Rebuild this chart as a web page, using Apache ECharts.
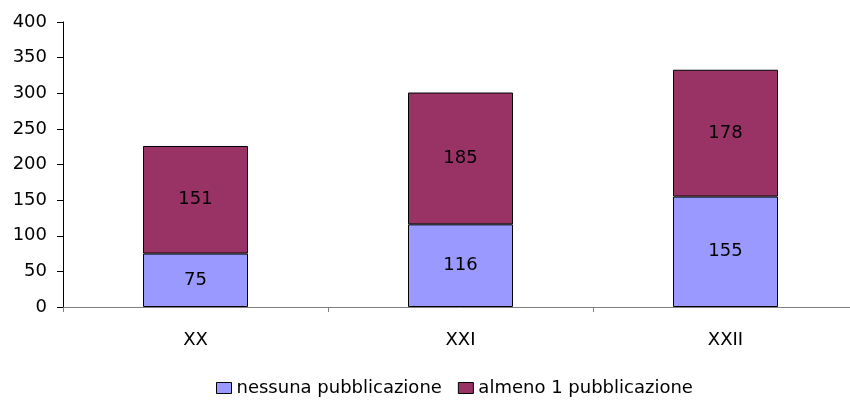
<!DOCTYPE html>
<html><head><meta charset="utf-8">
<script src="https://cdn.jsdelivr.net/npm/echarts@6/dist/echarts.min.js"></script>
<style>html,body{margin:0;padding:0;background:#fff;overflow:hidden}#c{width:862px;height:400px}</style>
</head><body><div id="c"></div>
<script>
const categories = ['XX', 'XXI', 'XXII'];
const nessuna = [75, 116, 155];
const almeno = [151, 185, 178];
const seriesNames = ['nessuna pubblicazione', 'almeno 1 pubblicazione'];
const yTicks = [0, 50, 100, 150, 200, 250, 300, 350, 400];

const font = 'DejaVu Sans, sans-serif';
const fs = 18;
const chart = echarts.init(document.getElementById('c'), null, {renderer: 'canvas'});
const lbl = {show: true, position: 'inside', color: '#000', fontSize: fs, fontFamily: font};
chart.setOption({
  animation: false,
  grid: {left: 63, top: 22, height: 285, width: 795, containLabel: false},
  legend: {
    top: 374, left: 211, itemWidth: 15, itemHeight: 11, itemGap: 16,
    textStyle: {fontSize: fs, fontFamily: font, color: '#000'},
    icon: 'rect',
    data: seriesNames.map(n => ({name: n, itemStyle: {borderColor: '#000', borderWidth: 1}}))
  },
  xAxis: {
    type: 'category', data: categories,
    axisLine: {lineStyle: {color: '#808080', width: 1}},
    axisTick: {show: true, alignWithLabel: false, length: 5, lineStyle: {color: '#808080'}},
    axisLabel: {fontSize: fs, fontFamily: font, color: '#000', margin: 24}
  },
  yAxis: {
    type: 'value', min: yTicks[0], max: yTicks[yTicks.length-1], interval: 50,
    axisLine: {show: true, lineStyle: {color: '#000', width: 1}},
    axisTick: {show: true, length: 6, lineStyle: {color: '#000'}},
    splitLine: {show: false},
    axisLabel: {fontSize: fs, fontFamily: font, color: '#000', margin: 16}
  },
  series: [
    {name: seriesNames[0], type: 'bar', stack: 's', data: nessuna, barWidth: 105,
     itemStyle: {color: '#9999FF', borderColor: '#000', borderWidth: 1}, label: lbl},
    {name: seriesNames[1], type: 'bar', stack: 's', data: almeno, barWidth: 105,
     itemStyle: {color: '#993366', borderColor: '#000', borderWidth: 1}, label: lbl}
  ]
});
</script></body></html>
